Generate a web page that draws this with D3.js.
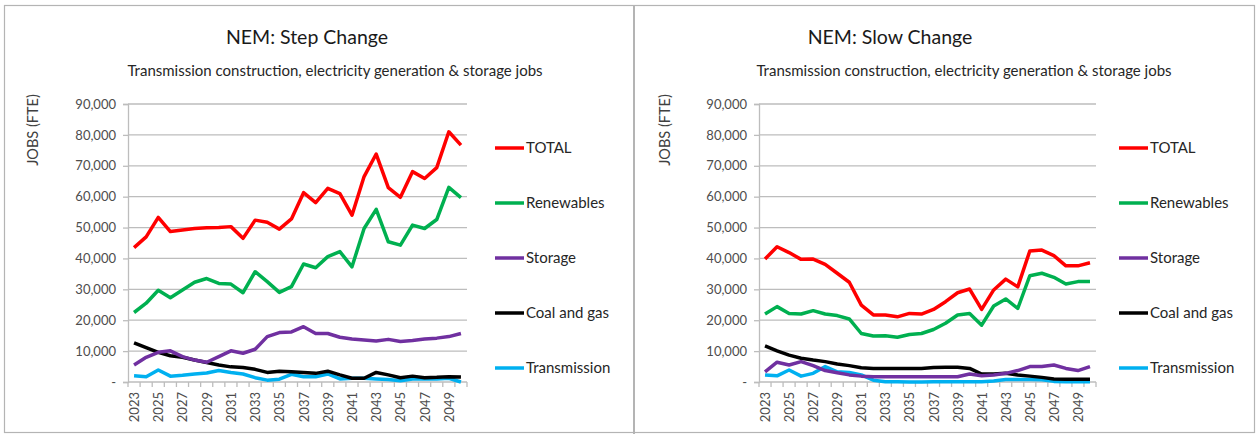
<!DOCTYPE html>
<html>
<head>
<meta charset="utf-8">
<script src="https://cdn.jsdelivr.net/npm/d3@7"></script>
<style>
  html, body { margin: 0; padding: 0; background: #fff; }
  svg { display: block; font-family: Lato, "Open Sans", sans-serif; }
</style>
</head>
<body>
<div id="chart"></div>
<script>
// categories
const years = [2023, 2024, 2025, 2026, 2027, 2028, 2029, 2030, 2031, 2032, 2033, 2034, 2035, 2036,
  2037, 2038, 2039, 2040, 2041, 2042, 2043, 2044, 2045, 2046, 2047, 2048, 2049, 2050];
const seriesNames = ["TOTAL", "Renewables", "Storage", "Coal and gas", "Transmission"];
const seriesColors = ["#ff0000", "#00b050", "#7030a0", "#000000", "#00b0f0"];
const yTicks = [0, 10000, 20000, 30000, 40000, 50000, 60000, 70000, 80000, 90000];

// NEM: Step Change
const stepTotal = [43500, 47000, 53300, 48700, 49200, 49700, 49900, 50000, 50300, 46500, 52400, 51700, 49500, 52800,
  61300, 58100, 62700, 61000, 54000, 66500, 73800, 62900, 59800, 68100, 65900, 69400, 81000, 76700];
const stepRenewables = [22500, 25500, 29700, 27300, 29800, 32300, 33500, 31900, 31700, 28900, 35700, 32500, 29000, 30900,
  38200, 37000, 40600, 42200, 37300, 49700, 55900, 45400, 44300, 50800, 49700, 52600, 63000, 59700];
const stepStorage = [5500, 8000, 9600, 10100, 8200, 7100, 6400, 8200, 10100, 9300, 10600, 14700, 16000, 16200,
  17900, 15700, 15700, 14500, 13900, 13600, 13300, 13800, 13100, 13400, 13900, 14200, 14700, 15700];
const stepCoalGas = [12700, 11100, 9600, 8500, 8000, 7100, 6300, 5500, 4900, 4700, 4100, 3100, 3500, 3300,
  3100, 2800, 3500, 2300, 1200, 1200, 3100, 2300, 1400, 1900, 1400, 1500, 1700, 1600];
const stepTransmission = [2000, 1700, 3900, 1900, 2200, 2600, 2900, 3700, 3100, 2600, 1400, 600, 900, 2500,
  1700, 1700, 2600, 1000, 1200, 1200, 1000, 800, 400, 1000, 1000, 1000, 1200, 0];

// NEM: Slow Change
const slowTotal = [39800, 43800, 41900, 39700, 39800, 38100, 35200, 32300, 24900, 21700, 21700, 21100, 22200, 22000,
  23500, 26000, 28900, 30100, 23500, 29800, 33300, 30800, 42400, 42700, 40900, 37600, 37600, 38600];
const slowRenewables = [22000, 24400, 22200, 22000, 23100, 22000, 21500, 20400, 15700, 14900, 15000, 14500, 15400, 15700,
  17000, 19000, 21700, 22200, 18400, 24600, 26900, 23800, 34400, 35200, 33900, 31700, 32500, 32500];
const slowStorage = [3300, 6400, 5500, 6600, 5300, 3700, 3000, 2300, 1900, 1700, 1700, 1700, 1700, 1700,
  1700, 1700, 1700, 2600, 2000, 2300, 2800, 3700, 5000, 5000, 5500, 4400, 3700, 5000];
const slowCoalGas = [11700, 10100, 8700, 7700, 7100, 6600, 5800, 5300, 4600, 4400, 4400, 4400, 4400, 4400,
  4700, 4800, 4800, 4400, 2600, 2600, 2800, 2300, 1900, 1500, 1000, 900, 900, 900];
const slowTransmission = [2300, 2000, 3900, 1900, 2800, 5000, 3300, 3100, 2300, 600, 100, 100, 0, 0,
  100, 100, 100, 100, 100, 300, 800, 800, 800, 700, 200, 100, 100, 100];

const W = 1258, H = 434;
const svg = d3.select("#chart").append("svg").attr("width", W).attr("height", H);

// frame
svg.append("rect").attr("x", 4.5).attr("y", 5.5).attr("width", 1250).attr("height", 427)
  .attr("fill", "none").attr("stroke", "#b4b4b4").attr("stroke-width", 1.2);
svg.append("line").attr("x1", 634).attr("x2", 634).attr("y1", 5).attr("y2", 434)
  .attr("stroke", "#b4b4b4").attr("stroke-width", 2);

const panels = [
  { title: "NEM: Step Change", x0: 128, x1: 467, titleX: 307, subX: 335, axisTitleX: 38, legX: 495,
    series: [stepTotal, stepRenewables, stepStorage, stepCoalGas, stepTransmission] },
  { title: "NEM: Slow Change", x0: 759, x1: 1096, titleX: 890, subX: 964, axisTitleX: 670, legX: 1119,
    series: [slowTotal, slowRenewables, slowStorage, slowCoalGas, slowTransmission] }
];

panels.forEach(p => drawPanel(p));

function drawPanel(p) {
  const g = svg.append("g");
  const yTop = 104, yBottom = 382;

  const x = d3.scaleBand().domain(years).range([p.x0, p.x1]).padding(0);
  const y = d3.scaleLinear().domain([0, 90000]).range([yBottom, yTop]);

  // titles
  g.append("text").attr("x", p.titleX).attr("y", 44).attr("text-anchor", "middle")
    .attr("font-size", 19.5).attr("fill", "#1a1a1a").text(p.title);
  g.append("text").attr("x", p.subX).attr("y", 76).attr("text-anchor", "middle")
    .attr("font-size", 15).attr("fill", "#262626")
    .text("Transmission construction, electricity generation & storage jobs");

  // gridlines
  g.append("g").selectAll("line").data(yTicks.filter(d => d > 0)).join("line")
    .attr("x1", p.x0).attr("x2", p.x1)
    .attr("y1", d => y(d)).attr("y2", d => y(d))
    .attr("stroke", "#bdbdbd").attr("stroke-width", 1.3);

  // y axis
  const yAxis = g.append("g").attr("transform", `translate(${p.x0},0)`)
    .call(d3.axisLeft(y).tickValues(yTicks).tickSize(5).tickPadding(7)
      .tickFormat(d => d === 0 ? "-" : d3.format(",")(d)));
  yAxis.select(".domain").attr("stroke", "#bdbdbd").attr("stroke-width", 1.3);
  yAxis.selectAll(".tick line").attr("stroke", "#bdbdbd").attr("stroke-width", 1.3);
  yAxis.selectAll(".tick text").attr("font-size", 13).attr("fill", "#4d4d4d")
    .attr("font-family", "Lato, sans-serif");

  // axis title
  g.append("text")
    .attr("transform", `translate(${p.axisTitleX},130) rotate(-90)`)
    .attr("text-anchor", "middle").attr("font-size", 14.5).attr("fill", "#404040")
    .text("JOBS (FTE)");

  // x axis line + boundary ticks
  g.append("line").attr("x1", p.x0).attr("x2", p.x1).attr("y1", yBottom).attr("y2", yBottom)
    .attr("stroke", "#bdbdbd").attr("stroke-width", 1.3);
  const bounds = years.map(d => x(d)).concat([x(years[years.length - 1]) + x.bandwidth()]);
  g.append("g").selectAll("line").data(bounds).join("line")
    .attr("x1", d => d).attr("x2", d => d).attr("y1", yBottom).attr("y2", yBottom + 5)
    .attr("stroke", "#bdbdbd").attr("stroke-width", 1.3);

  // x labels every other year
  g.append("g").selectAll("text").data(years.filter((d, i) => i % 2 === 0)).join("text")
    .attr("transform", d => `translate(${x(d) + x.bandwidth() / 2 + 5},${yBottom + 10}) rotate(-90)`)
    .attr("text-anchor", "end").attr("font-size", 13).attr("fill", "#4d4d4d")
    .text(d => d);

  // lines (draw bottom series first so TOTAL sits on top)
  const line = d3.line()
    .x((d, i) => x(years[i]) + x.bandwidth() / 2)
    .y(d => y(d));
  const order = [4, 3, 2, 1, 0];
  order.forEach(k => {
    g.append("path").datum(p.series[k])
      .attr("fill", "none").attr("stroke", seriesColors[k])
      .attr("stroke-width", 3.5).attr("stroke-linejoin", "round")
      .attr("d", line);
  });

  // legend
  const leg = g.append("g").selectAll("g").data(seriesNames).join("g")
    .attr("transform", (d, i) => `translate(${p.legX},${148 + i * 55})`);
  leg.append("line").attr("x1", 0).attr("x2", 29).attr("y1", 0).attr("y2", 0)
    .attr("stroke", (d, i) => seriesColors[i]).attr("stroke-width", 3.5);
  leg.append("text").attr("x", 31).attr("y", 0).attr("dy", "0.35em")
    .attr("font-size", 15).attr("fill", "#262626").text(d => d);
}
</script>
</body>
</html>
